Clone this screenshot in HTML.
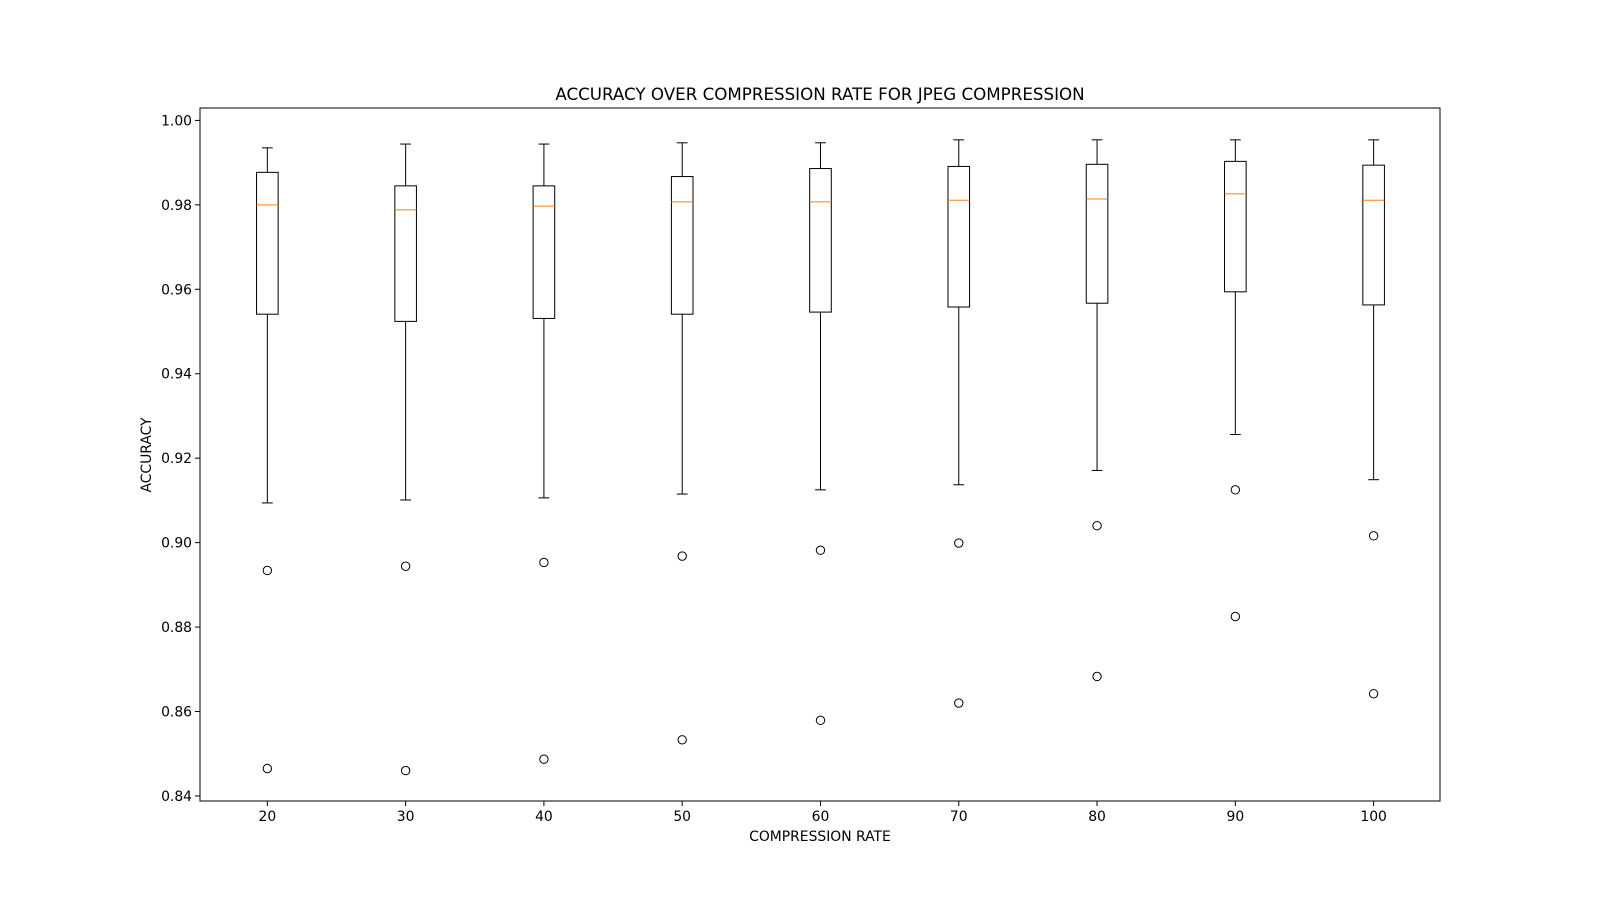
<!DOCTYPE html>
<html><head><meta charset="utf-8"><style>
body{margin:0;background:#fff;}
svg{display:block;font-family:"DejaVu Sans","Liberation Sans",sans-serif;}
</style></head><body>
<svg id="chart" width="1600" height="900" viewBox="0 0 1600 900">
<rect width="1600" height="900" fill="#fff"/>
<text x="820" y="100" font-size="16.7" text-anchor="middle">ACCURACY OVER COMPRESSION RATE FOR JPEG COMPRESSION</text>
<text x="820" y="841" font-size="13.9" text-anchor="middle">COMPRESSION RATE</text>
<text x="0" y="0" font-size="13.9" text-anchor="middle" transform="translate(151,455) rotate(-90)">ACCURACY</text>
<g id="marks"></g>
<g id="axes"></g>
<rect x="200" y="108" width="1240" height="693" fill="none" stroke="#000" stroke-width="1"/>
</svg>
<script>
const categories = ["20","30","40","50","60","70","80","90","100"];
const whiskerHigh = [0.9935,0.9944,0.9944,0.9947,0.9947,0.9954,0.9954,0.9954,0.9954];
const q3 = [0.9877,0.9845,0.9845,0.9867,0.9886,0.9891,0.9896,0.9903,0.9894];
const medians = [0.9800,0.9788,0.9797,0.9807,0.9807,0.9811,0.9814,0.9826,0.9811];
const q1 = [0.9541,0.9524,0.9531,0.9541,0.9546,0.9558,0.9567,0.9594,0.9563];
const whiskerLow = [0.9094,0.9101,0.9106,0.9115,0.9125,0.9137,0.9171,0.9256,0.9149];
const outliersA = [0.8934,0.8944,0.8953,0.8968,0.8982,0.8999,0.9040,0.9125,0.9016];
const outliersB = [0.8465,0.8460,0.8487,0.8533,0.8579,0.8620,0.8683,0.8825,0.8642];
const yTicks = [0.84,0.86,0.88,0.90,0.92,0.94,0.96,0.98,1.00];

const L=200,R=1440,T=108,B=801;
const xMin=-0.487,xMax=8.48;
const yMin=0.8388,yMax=1.00294;
const xS=i=>L+(i-xMin)/(xMax-xMin)*(R-L);
const yS=v=>B-(v-yMin)/(yMax-yMin)*(B-T);
const NS="http://www.w3.org/2000/svg";
const marks=document.getElementById('marks'), axes=document.getElementById('axes');
function mk(tag,attrs,parent){const e=document.createElementNS(NS,tag);for(const k in attrs)e.setAttribute(k,attrs[k]);parent.appendChild(e);return e;}
const bw=10.8;
categories.forEach((c,i)=>{
  const x=xS(i);
  const g=mk('g',{},marks);
  
  
  mk('line',{x1:x,x2:x,y1:yS(q3[i]),y2:yS(whiskerHigh[i]),stroke:'#000'},g);
  mk('line',{x1:x,x2:x,y1:yS(q1[i]),y2:yS(whiskerLow[i]),stroke:'#000'},g);
  mk('line',{x1:x-bw/2,x2:x+bw/2,y1:yS(whiskerHigh[i]),y2:yS(whiskerHigh[i]),stroke:'#000'},g);
  mk('line',{x1:x-bw/2,x2:x+bw/2,y1:yS(whiskerLow[i]),y2:yS(whiskerLow[i]),stroke:'#000'},g);
  mk('rect',{x:x-bw,y:yS(q3[i]),width:2*bw,height:yS(q1[i])-yS(q3[i]),fill:'none',stroke:'#000'},g);
  mk('line',{x1:x-bw,x2:x+bw,y1:yS(medians[i]),y2:yS(medians[i]),stroke:'#ff7f0e'},g);
  [outliersA[i],outliersB[i]].forEach(v=>{
    const o=mk('circle',{cx:x,cy:yS(v),r:4.2,fill:'none',stroke:'#000'},g);
    
    
  });
  mk('line',{x1:x,x2:x,y1:B,y2:B+5,stroke:'#000'},axes);
  const lb=mk('text',{x:x,y:B+20,'font-size':13.9,'text-anchor':'middle'},axes);
  lb.textContent=c;
  
  
});
yTicks.forEach(v=>{
  const y=yS(v);
  mk('line',{x1:L-5,x2:L,y1:y,y2:y,stroke:'#000'},axes);
  const lb=mk('text',{x:L-8,y:y+5,'font-size':13.9,'text-anchor':'end'},axes);
  lb.textContent=v.toFixed(2);
  
  
});
</script>
</body></html>
